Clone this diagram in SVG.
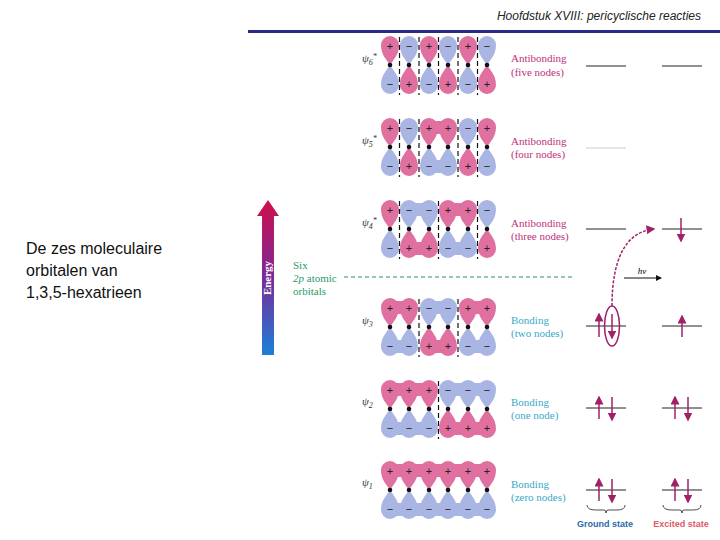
<svg xmlns="http://www.w3.org/2000/svg" xmlns:xlink="http://www.w3.org/1999/xlink" width="720" height="540" viewBox="0 0 720 540">
<style>
.sg{font-family:"Liberation Sans",Arial,sans-serif;font-size:11px;text-anchor:middle;fill:#222}
.pk{fill:#e0709f}.bl{fill:#a9b6e4}
.nd{stroke:#111;stroke-width:1.2;stroke-dasharray:5,3}
.ab{font-family:"Liberation Serif",serif;font-size:11px;fill:#c0307a}
.bd{font-family:"Liberation Serif",serif;font-size:11px;fill:#3aa8c8}
.psi{font-family:"Liberation Serif",serif;font-size:11px;font-style:italic;fill:#333}
.lv{stroke:#222;stroke-width:1}
.el{stroke:#a0206a;stroke-width:1.5;fill:none}
</style>
<defs>
<path id="lobe" d="M0,0 C-3,-5 -9,-10 -9,-20 A9,9 0 0 1 9,-20 C9,-10 3,-5 0,0Z"/>
<marker id="ah" markerWidth="6" markerHeight="6" refX="5" refY="3" orient="auto"><path d="M0,0L6,3L0,6Z" fill="#a0206a"/></marker>
<marker id="ak" markerWidth="6" markerHeight="6" refX="5" refY="3" orient="auto"><path d="M0,0L6,3L0,6Z" fill="#111"/></marker>
<g id="P"><use xlink:href="#lobe" class="pk"/><use xlink:href="#lobe" class="bl" transform="scale(1,-1)"/><text class="sg" y="-15">+</text><text class="sg" y="23">−</text><circle r="2.3" fill="#111"/></g>
<g id="M"><use xlink:href="#lobe" class="bl"/><use xlink:href="#lobe" class="pk" transform="scale(1,-1)"/><text class="sg" y="-15">−</text><text class="sg" y="23">+</text><circle r="2.3" fill="#111"/></g>
<g id="BP"><rect x="0" y="-26" width="20" height="13" class="pk"/><rect x="0" y="13" width="20" height="13" class="bl"/></g>
<g id="BM"><rect x="0" y="-26" width="20" height="13" class="bl"/><rect x="0" y="13" width="20" height="13" class="pk"/></g>
<linearGradient id="eg" x1="0" y1="0" x2="0" y2="1"><stop offset="0" stop-color="#d0104a"/><stop offset="0.5" stop-color="#7a2a9a"/><stop offset="1" stop-color="#1a80d8"/></linearGradient>
</defs>
<rect width="720" height="540" fill="#fff"/>
<text x="701" y="20" font-family="Liberation Sans,Arial,sans-serif" font-size="12" font-style="italic" text-anchor="end" fill="#222">Hoofdstuk XVIII: pericyclische reacties</text>
<line x1="248" y1="31.5" x2="720" y2="31.5" stroke="#2a2a8a" stroke-width="3"/>
<g font-family="Liberation Sans,Arial,sans-serif" font-size="16" fill="#111">
<text x="26" y="254">De zes moleculaire</text><text x="26" y="276">orbitalen van</text><text x="26" y="298">1,3,5-hexatrieen</text></g>
<g id="energy"><path d="M262,355V216H257L268,200L279,216H274V355Z" fill="url(#eg)"/>
<text transform="translate(271,278) rotate(-90)" text-anchor="middle" font-family="Liberation Serif,serif" font-weight="bold" font-size="11" fill="#fff">Energy</text></g>
<g id="six" font-family="Liberation Serif,serif" font-size="11" fill="#2a9a6a"><text x="293" y="269">Six</text><text x="293" y="282"><tspan font-style="italic">2p</tspan> atomic</text><text x="293" y="295">orbitals</text></g>
<line x1="344" y1="277" x2="572" y2="277" stroke="#2a8a7a" stroke-dasharray="4,3"/>
<g id="psi6"><use xlink:href="#P" x="390" y="65"/><use xlink:href="#M" x="409" y="65"/><use xlink:href="#P" x="429" y="65"/><use xlink:href="#M" x="448" y="65"/><use xlink:href="#P" x="468" y="65"/><use xlink:href="#M" x="487" y="65"/>
<g class="nd"><line x1="399.5" y1="37" x2="399.5" y2="95"/><line x1="419" y1="37" x2="419" y2="95"/><line x1="438.5" y1="37" x2="438.5" y2="95"/><line x1="458" y1="37" x2="458" y2="95"/><line x1="477.5" y1="37" x2="477.5" y2="95"/></g>
<text class="psi" x="362" y="62">ψ<tspan font-size="8" dy="3">6</tspan><tspan dy="-6" font-size="8">*</tspan></text>
<text class="ab" x="511" y="62">Antibonding</text><text class="ab" x="511" y="76">(five nodes)</text></g>
<g id="psi5"><use xlink:href="#BP" x="429" y="147"/><use xlink:href="#P" x="390" y="147"/><use xlink:href="#M" x="409" y="147"/><use xlink:href="#P" x="429" y="147"/><use xlink:href="#P" x="448" y="147"/><use xlink:href="#M" x="468" y="147"/><use xlink:href="#P" x="487" y="147"/>
<g class="nd"><line x1="399.5" y1="119" x2="399.5" y2="177"/><line x1="419" y1="119" x2="419" y2="177"/><line x1="458" y1="119" x2="458" y2="177"/><line x1="477.5" y1="119" x2="477.5" y2="177"/></g>
<text class="psi" x="362" y="144">ψ<tspan font-size="8" dy="3">5</tspan><tspan dy="-6" font-size="8">*</tspan></text>
<text class="ab" x="511" y="145">Antibonding</text><text class="ab" x="511" y="158">(four nodes)</text></g>
<g id="psi4"><use xlink:href="#BM" x="409" y="229"/><use xlink:href="#BP" x="448" y="229"/><use xlink:href="#P" x="390" y="229"/><use xlink:href="#M" x="409" y="229"/><use xlink:href="#M" x="429" y="229"/><use xlink:href="#P" x="448" y="229"/><use xlink:href="#P" x="468" y="229"/><use xlink:href="#M" x="487" y="229"/>
<g class="nd"><line x1="399.5" y1="201" x2="399.5" y2="259"/><line x1="438.5" y1="201" x2="438.5" y2="259"/><line x1="477.5" y1="201" x2="477.5" y2="259"/></g>
<text class="psi" x="362" y="226">ψ<tspan font-size="8" dy="3">4</tspan><tspan dy="-6" font-size="8">*</tspan></text>
<text class="ab" x="511" y="227">Antibonding</text><text class="ab" x="511" y="240">(three nodes)</text></g>
<g id="psi3"><use xlink:href="#BP" x="390" y="327"/><use xlink:href="#BM" x="429" y="327"/><use xlink:href="#BP" x="468" y="327"/><use xlink:href="#P" x="390" y="327"/><use xlink:href="#P" x="409" y="327"/><use xlink:href="#M" x="429" y="327"/><use xlink:href="#M" x="448" y="327"/><use xlink:href="#P" x="468" y="327"/><use xlink:href="#P" x="487" y="327"/>
<g class="nd"><line x1="419" y1="299" x2="419" y2="357"/><line x1="458" y1="299" x2="458" y2="357"/></g>
<text class="psi" x="362" y="324">ψ<tspan font-size="8" dy="3">3</tspan></text>
<text class="bd" x="511" y="324">Bonding</text><text class="bd" x="511" y="337">(two nodes)</text></g>
<g id="psi2"><use xlink:href="#BP" x="390" y="409"/><use xlink:href="#BP" x="409" y="409"/><use xlink:href="#BM" x="448" y="409"/><use xlink:href="#BM" x="468" y="409"/><use xlink:href="#P" x="390" y="409"/><use xlink:href="#P" x="409" y="409"/><use xlink:href="#P" x="429" y="409"/><use xlink:href="#M" x="448" y="409"/><use xlink:href="#M" x="468" y="409"/><use xlink:href="#M" x="487" y="409"/>
<line class="nd" x1="438.5" y1="381" x2="438.5" y2="439"/>
<text class="psi" x="362" y="405">ψ<tspan font-size="8" dy="3">2</tspan></text>
<text class="bd" x="511" y="406">Bonding</text><text class="bd" x="511" y="419">(one node)</text></g>
<g id="psi1"><use xlink:href="#BP" x="390" y="490"/><use xlink:href="#BP" x="409" y="490"/><use xlink:href="#BP" x="429" y="490"/><use xlink:href="#BP" x="448" y="490"/><use xlink:href="#BP" x="468" y="490"/><use xlink:href="#P" x="390" y="490"/><use xlink:href="#P" x="409" y="490"/><use xlink:href="#P" x="429" y="490"/><use xlink:href="#P" x="448" y="490"/><use xlink:href="#P" x="468" y="490"/><use xlink:href="#P" x="487" y="490"/>
<text class="psi" x="362" y="486">ψ<tspan font-size="8" dy="3">1</tspan></text>
<text class="bd" x="511" y="488">Bonding</text><text class="bd" x="511" y="501">(zero nodes)</text></g>
<g id="levels">
<line class="lv" x1="586" y1="66" x2="626" y2="66"/><line class="lv" x1="662" y1="66" x2="702" y2="66"/>
<line x1="586" y1="148" x2="626" y2="148" stroke="#ccc"/>
<line class="lv" x1="586" y1="229" x2="626" y2="229" stroke="#777"/><line class="lv" x1="662" y1="229" x2="702" y2="229"/>
<line class="lv" x1="586" y1="326" x2="626" y2="326"/><line class="lv" x1="662" y1="326" x2="702" y2="326"/>
<line class="lv" x1="586" y1="408" x2="626" y2="408"/><line class="lv" x1="662" y1="408" x2="702" y2="408"/>
<line class="lv" x1="586" y1="490" x2="626" y2="490"/><line class="lv" x1="662" y1="490" x2="702" y2="490"/>
</g>
<g id="connectors">
<line class="el" x1="681" y1="218" x2="681" y2="241" marker-end="url(#ah)"/>
<line class="el" x1="599" y1="337" x2="599" y2="314" marker-end="url(#ah)"/>
<line class="el" x1="612" y1="314" x2="612" y2="338" marker-end="url(#ah)"/>
<ellipse cx="612" cy="326" rx="7.5" ry="20" class="el" stroke-width="1.2"/>
<path class="el" d="M612,306 C612,260 625,232 654,229" stroke-dasharray="3,1.5" marker-end="url(#ah)"/>
<line class="el" x1="682" y1="337" x2="682" y2="316" marker-end="url(#ah)"/>
<line x1="624" y1="278" x2="661" y2="278" stroke="#111" marker-end="url(#ak)"/>
<text x="642" y="274" font-family="Liberation Serif,serif" font-style="italic" font-size="9" text-anchor="middle">hν</text>
<line class="el" x1="599" y1="419" x2="599" y2="397" marker-end="url(#ah)"/><line class="el" x1="612" y1="397" x2="612" y2="420" marker-end="url(#ah)"/>
<line class="el" x1="675" y1="419" x2="675" y2="397" marker-end="url(#ah)"/><line class="el" x1="688" y1="397" x2="688" y2="420" marker-end="url(#ah)"/>
<line class="el" x1="599" y1="501" x2="599" y2="479" marker-end="url(#ah)"/><line class="el" x1="612" y1="479" x2="612" y2="502" marker-end="url(#ah)"/>
<line class="el" x1="675" y1="501" x2="675" y2="479" marker-end="url(#ah)"/><line class="el" x1="688" y1="479" x2="688" y2="502" marker-end="url(#ah)"/>
<path d="M587,505 Q587,510 596,510 L604,510 Q606,510 606,513 Q606,510 608,510 L617,510 Q625,510 625,505" fill="none" stroke="#222" stroke-width="0.8"/>
<path d="M663,505 Q663,510 672,510 L680,510 Q682,510 682,513 Q682,510 684,510 L693,510 Q701,510 701,505" fill="none" stroke="#222" stroke-width="0.8"/>
</g>
<text x="605" y="527" font-family="Liberation Sans,Arial,sans-serif" font-weight="bold" font-size="9" text-anchor="middle" fill="#2a6aa8">Ground state</text>
<text x="681" y="527" font-family="Liberation Sans,Arial,sans-serif" font-weight="bold" font-size="9" text-anchor="middle" fill="#e05a6a">Excited state</text>
</svg>
